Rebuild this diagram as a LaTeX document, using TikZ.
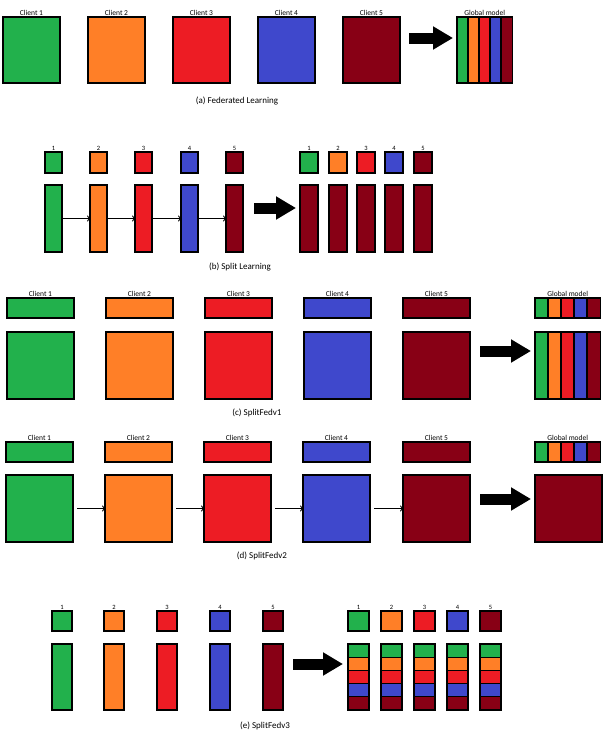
\documentclass[tikz,border=0pt]{standalone}
\usepackage{fontspec}
\setmainfont{Carlito}
\usetikzlibrary{arrows.meta}
\definecolor{cg}{HTML}{22B14C}
\definecolor{co}{HTML}{FF7F27}
\definecolor{cr}{HTML}{ED1C24}
\definecolor{cb}{HTML}{3F48CC}
\definecolor{cd}{HTML}{880015}
\tikzset{
  bx/.style={draw=black, line width=1.3pt, inner sep=0pt, outer sep=0pt},
  lbl/.style={font=\fontsize{7.5}{8}\selectfont, inner sep=1pt, anchor=south},
  num/.style={font=\fontsize{6.5}{7}\selectfont, inner sep=1pt, anchor=south},
  captxt/.style={font=\fontsize{9}{10}\selectfont},
  thinarr/.style={-{To[length=3pt,width=6pt]}, line width=0.9pt},
  fatarr/.style={-{Triangle[length=20pt,width=22pt]}, line width=11pt, shorten >=-1pt}
}
\begin{document}
\begin{tikzpicture}[x=1pt,y=-1pt]
\useasboundingbox[fill=white] (0,0) rectangle (608,736);
% ---------- (a)
\foreach \i/\x/\c in {1/3/cg,2/88/co,3/173/cr,4/258/cb,5/343/cd}{
  \node[bx, fill=\c, minimum width=57pt, minimum height=66pt, anchor=north west] (a\i) at (\x,17) {};
  \node[lbl] (al\i) at (a\i.north) {Client \i};
}
\foreach \i/\x/\c in {1/457/cg,2/468/co,3/479/cr,4/490/cb,5/501/cd}{
  \node[bx, fill=\c, minimum width=11.5pt, minimum height=66pt, anchor=north west] (ag\i) at (\x,17) {};
}
\node[lbl] (agl) at (ag3.north) {Global model};
\coordinate (aa1) at (409,38); \coordinate (aa2) at (452,38);
\draw[fatarr] (aa1) -- (aa2);
\node[captxt] (capa) at (237,101) {(a) Federated Learning};
% ---------- (b)
\foreach \i/\x/\c in {1/45/cg,2/90/co,3/135/cr,4/181/cb,5/226/cd}{
  \node[bx, fill=\c, minimum width=17pt, minimum height=21pt, anchor=north west] (bs\i) at (\x,152) {};
  \node[num] (bn\i) at (bs\i.north) {\i};
  \node[bx, fill=\c, minimum width=17pt, minimum height=67pt, anchor=north west] (bt\i) at (\x,185) {};
}
\foreach \i/\j in {1/2,2/3,3/4,4/5}{\draw[thinarr] (bt\i.east) -- (bt\j.west);}
\coordinate (ba1) at (254,208); \coordinate (ba2) at (295,208);
\draw[fatarr] (ba1) -- (ba2);
\foreach \i/\x/\c in {1/300/cg,2/329/co,3/357/cr,4/385/cb,5/414/cd}{
  \node[bx, fill=\c, minimum width=18pt, minimum height=21pt, anchor=north west] (bs2\i) at (\x,152) {};
  \node[num] (bn2\i) at (bs2\i.north) {\i};
  \node[bx, fill=cd, minimum width=18pt, minimum height=67pt, anchor=north west] (bt2\i) at (\x,185) {};
}
\node[captxt] (capb) at (240,267) {(b) Split Learning};
% ---------- (c)
\foreach \i/\x/\c in {1/7/cg,2/106/co,3/205/cr,4/304/cb,5/403/cd}{
  \node[bx, fill=\c, minimum width=67pt, minimum height=20pt, anchor=north west] (ct\i) at (\x,298) {};
  \node[lbl] (cl\i) at (ct\i.north) {Client \i};
  \node[bx, fill=\c, minimum width=67pt, minimum height=67pt, anchor=north west] (cb\i) at (\x,332) {};
}
\foreach \i/\x/\c in {1/535/cg,2/548/co,3/561/cr,4/574/cb,5/587/cd}{
  \node[bx, fill=\c, minimum width=13.5pt, minimum height=20pt, anchor=north west] (cgt\i) at (\x,298) {};
  \node[bx, fill=\c, minimum width=13.5pt, minimum height=67pt, anchor=north west] (cgb\i) at (\x,332) {};
}
\node[lbl] (cgl) at (cgt3.north) {Global model};
\coordinate (ca1) at (480,351); \coordinate (ca2) at (530,351);
\draw[fatarr] (ca1) -- (ca2);
\node[captxt] (capc) at (257,413) {(c) SplitFedv1};
% ---------- (d)
\foreach \i/\x/\c in {1/6/cg,2/105/co,3/204/cr,4/303/cb,5/403/cd}{
  \node[bx, fill=\c, minimum width=67pt, minimum height=20pt, anchor=north west] (dt\i) at (\x,442) {};
  \node[lbl] (dl\i) at (dt\i.north) {Client \i};
  \node[bx, fill=\c, minimum width=67pt, minimum height=67pt, anchor=north west] (db\i) at (\x,475) {};
}
\foreach \i/\j in {1/2,2/3,3/4,4/5}{\draw[thinarr] ([xshift=4pt]db\i.east) -- (db\j.west);}
\foreach \i/\x/\c in {1/535/cg,2/548/co,3/561/cr,4/574/cb,5/587/cd}{
  \node[bx, fill=\c, minimum width=13.5pt, minimum height=20pt, anchor=north west] (dgt\i) at (\x,442) {};
}
\node[lbl] (dgl) at (dgt3.north) {Global model};
\node[bx, fill=cd, minimum width=67pt, minimum height=67pt, anchor=north west] (dg) at (535,475) {};
\coordinate (da1) at (480,499); \coordinate (da2) at (530,499);
\draw[fatarr] (da1) -- (da2);
\node[captxt] (capd) at (262,556) {(d) SplitFedv2};
% ---------- (e)
\foreach \i/\x/\c in {1/52/cg,2/104/co,3/157/cr,4/210/cb,5/263/cd}{
  \node[bx, fill=\c, minimum width=20pt, minimum height=20pt, anchor=north west] (es\i) at (\x,611) {};
  \node[num] (en\i) at (es\i.north) {\i};
  \node[bx, fill=\c, minimum width=20pt, minimum height=66pt, anchor=north west] (et\i) at (\x,644) {};
}
\coordinate (ea1) at (293,664); \coordinate (ea2) at (342,664);
\draw[fatarr] (ea1) -- (ea2);
\foreach \i/\x/\c in {1/348/cg,2/381/co,3/414/cr,4/447/cb,5/480/cd}{
  \node[bx, fill=\c, minimum width=21pt, minimum height=20pt, anchor=north west] (es2\i) at (\x,611) {};
  \node[num] (en2\i) at (es2\i.north) {\i};
  \foreach \k/\cc in {0/cg,1/co,2/cr,3/cb,4/cd}{
    \node[bx, fill=\cc, minimum width=21pt, minimum height=13.2pt, anchor=north west] (ek\i\k) at (\x,644+13.2*\k) {};
  }
}
\node[captxt] (cape) at (265,726) {(e) SplitFedv3};
\end{tikzpicture}
\end{document}
